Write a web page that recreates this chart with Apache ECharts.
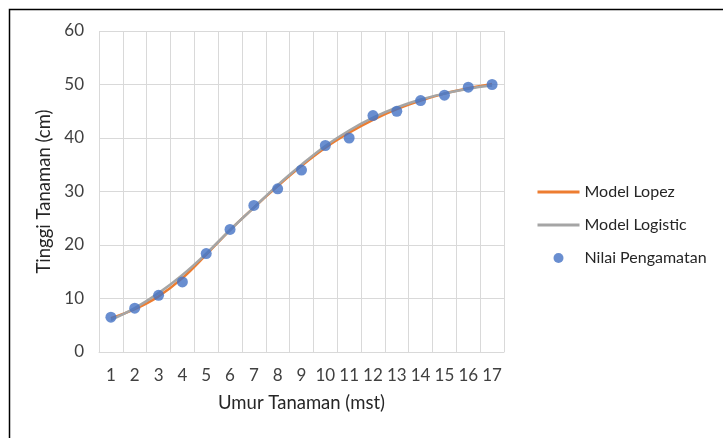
<!DOCTYPE html>
<html>
<head>
<meta charset="utf-8">
<script src="https://cdn.jsdelivr.net/npm/echarts@6/dist/echarts.min.js"></script>
<style>html,body{margin:0;padding:0;background:#fff}#c{width:723px;height:438px}</style>
</head>
<body>
<div id="c"></div>
<script>
var categories = ['1','2','3','4','5','6','7','8','9','10','11','12','13','14','15','16','17'];
var modelLopez = [6.3, 8.0, 10.4, 13.8, 18.2, 22.8, 27.0, 31.0, 34.8, 38.2, 41.0, 43.4, 45.4, 47.0, 48.3, 49.3, 50.1];
var modelLogistic = [6.0, 8.2, 11.0, 14.4, 18.4, 22.8, 27.0, 31.2, 35.0, 38.5, 41.4, 43.8, 45.7, 47.2, 48.3, 49.2, 49.8];
var nilaiPengamatan = [6.5, 8.2, 10.6, 13.1, 18.4, 22.9, 27.4, 30.5, 34.0, 38.6, 40.0, 44.2, 45.0, 47.0, 48.0, 49.5, 50.0];
var yTicks = [0, 10, 20, 30, 40, 50, 60];

var font = 'Lato, "Open Sans", sans-serif';
var chart = echarts.init(document.getElementById('c'), null, {renderer: 'canvas'});
chart.setOption({
  animation: false,
  backgroundColor: '#ffffff',
  textStyle: {fontFamily: font},
  graphic: [{
    type: 'rect', left: 7, top: 7,
    shape: {width: 760, height: 460},
    style: {fill: 'none', stroke: '#000', lineWidth: 1.5},
    silent: true
  }],
  grid: {left: 99, right: 219, top: 31, bottom: 86},
  legend: {
    orient: 'vertical', left: 531, top: 178,
    itemWidth: 42, itemHeight: 10, itemGap: 15,
    textStyle: {fontFamily: font, fontSize: 16, lineHeight: 18, color: '#262626'},
    data: [
      {name: 'Model Lopez', itemStyle: {opacity: 0}, lineStyle: {width: 3}},
      {name: 'Model Logistic', itemStyle: {opacity: 0}, lineStyle: {width: 3}},
      {name: 'Nilai Pengamatan', icon: 'circle'}
    ]
  },
  xAxis: {
    type: 'category', data: categories, boundaryGap: true,
    name: 'Umur Tanaman (mst)', nameLocation: 'middle', nameGap: 42,
    nameTextStyle: {fontFamily: font, fontSize: 18.5, color: '#262626'},
    axisLine: {show: true, lineStyle: {color: '#d9d9d9', width: 1}},
    axisTick: {show: false, interval: 0},
    axisLabel: {fontFamily: font, fontSize: 17, color: '#404040', margin: 15, interval: 0},
    splitLine: {show: true, interval: 0, lineStyle: {color: '#d9d9d9', width: 1}}
  },
  yAxis: {
    type: 'value', min: yTicks[0], max: yTicks[yTicks.length - 1], interval: 10,
    name: 'Tinggi Tanaman (cm)', nameLocation: 'middle', nameGap: 44,
    nameTextStyle: {fontFamily: font, fontSize: 18.5, color: '#262626'},
    axisLine: {show: false},
    axisTick: {show: false},
    axisLabel: {fontFamily: font, fontSize: 17, color: '#404040', margin: 15},
    splitLine: {show: true, lineStyle: {color: '#d9d9d9', width: 1}}
  },
  series: [
    {name: 'Model Lopez', type: 'line', data: modelLopez, smooth: 0.4, symbol: 'none',
     lineStyle: {color: '#ED7D31', width: 2.5}, itemStyle: {color: '#ED7D31'}, z: 2},
    {name: 'Model Logistic', type: 'line', data: modelLogistic, smooth: 0.4, symbol: 'none',
     lineStyle: {color: '#A5A5A5', width: 2.5}, itemStyle: {color: '#A5A5A5'}, z: 3},
    {name: 'Nilai Pengamatan', type: 'scatter', data: nilaiPengamatan, symbol: 'circle', symbolSize: 11,
     itemStyle: {color: '#4472C4'}, z: 4}
  ]
});
</script>
</body>
</html>
